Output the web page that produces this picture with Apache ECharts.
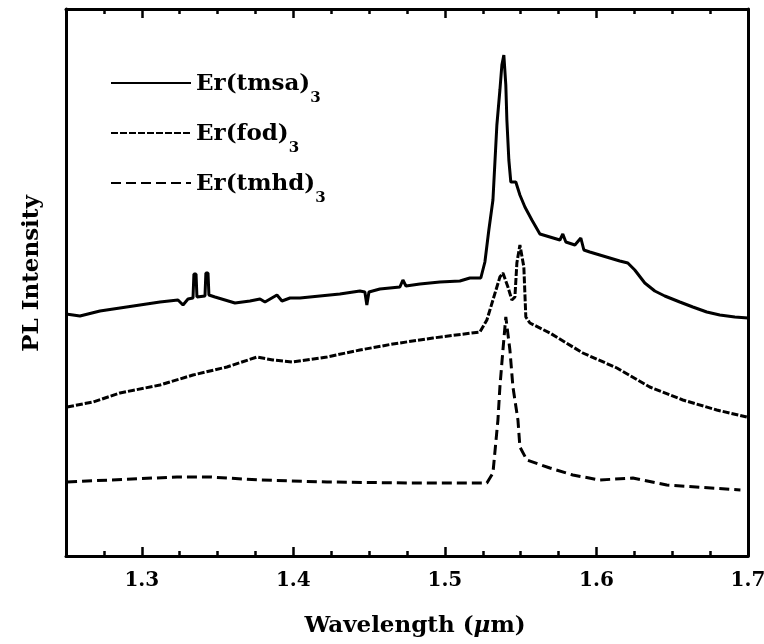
<!DOCTYPE html>
<html>
<head>
<meta charset="utf-8">
<script src="https://cdn.jsdelivr.net/npm/echarts@6/dist/echarts.min.js"></script>
<style>html,body{margin:0;padding:0;background:#fff;}#c{width:764px;height:644px;}</style>
</head>
<body>
<div id="c"></div>
<script>
// ---- data (wavelength in µm, PL intensity in arbitrary units) ----
const tmsaData = [
[1.2500,242],[1.2592,240],[1.2724,245],[1.2856,248],[1.2988,251],[1.3120,254],[1.3239,256],[1.3272,251],
[1.3305,257],[1.3338,258],[1.3344,282],[1.3358,282],[1.3364,259],[1.3417,260],[1.3423,283],[1.3437,283],
[1.3443,261],[1.3483,259],[1.3549,256],[1.3615,253],[1.3714,255],[1.3780,257],[1.3813,254],[1.3892,261],
[1.3925,255],[1.3978,258],[1.4044,258],[1.4175,260],[1.4307,262],[1.4439,265],[1.4472,264],[1.4485,251],
[1.4499,264],[1.4571,267],[1.4703,269],[1.4723,276],[1.4743,270],[1.4835,272],[1.4967,274],[1.5099,275],
[1.5165,278],[1.5237,278],[1.5264,294],[1.5290,326],[1.5317,356],[1.5343,431],[1.5363,466],[1.5376,491],
[1.5389,501],[1.5402,471],[1.5409,436],[1.5422,396],[1.5435,374],[1.5468,374],[1.5495,361],[1.5528,349],
[1.5574,336],[1.5627,322],[1.5693,319],[1.5759,316],[1.5778,322],[1.5798,314],[1.5858,311],[1.5897,318],
[1.5917,306],[1.5956,304],[1.6022,301],[1.6088,298],[1.6154,295],[1.6207,293],[1.6253,286],[1.6319,273],
[1.6385,265],[1.6451,260],[1.6550,254],[1.6636,249],[1.6728,244],[1.6814,241],[1.6913,239],[1.7000,238]
];
const fodData = [
[1.2507,149],[1.2678,154],[1.2856,163],[1.3120,171],[1.3338,181],[1.3562,189],[1.3760,199],[1.3865,196],
[1.3997,194],[1.4222,199],[1.4439,206],[1.4657,212],[1.4921,218],[1.5231,224],[1.5277,236],[1.5317,256],
[1.5363,279],[1.5383,283],[1.5416,269],[1.5442,256],[1.5462,259],[1.5475,293],[1.5495,311],[1.5521,289],
[1.5534,239],[1.5561,233],[1.5693,223],[1.5910,203],[1.6135,188],[1.6352,169],[1.6570,156],[1.6794,146],
[1.6992,139]
];
const tmhdData = [
[1.2507,74],[1.2790,76],[1.3232,79],[1.3450,79],[1.3780,76],[1.4222,74],[1.4749,73],[1.5277,73],
[1.5317,83],[1.5350,136],[1.5363,169],[1.5383,206],[1.5402,239],[1.5429,206],[1.5449,169],[1.5482,136],
[1.5495,109],[1.5541,96],[1.5693,88],[1.5844,81],[1.6022,76],[1.6240,78],[1.6464,71],[1.6950,66]
];
const seriesNames = ['Er(tmsa)', 'Er(fod)', 'Er(tmhd)'];
const subscript = '3';
const majorTicks = [1.3, 1.4, 1.5, 1.6, 1.7];
const minorTicks = [1.275, 1.325, 1.35, 1.375, 1.425, 1.45, 1.475, 1.525, 1.55, 1.575, 1.625, 1.65, 1.675];
const xMin = 1.25, xMax = 1.7;
const xTitle = 'Wavelength (';
const yTitle = 'PL Intensity';

const FONT = '"DejaVu Serif", "Liberation Serif", serif';
const chart = echarts.init(document.getElementById('c'));

function xAx(pos, ticks, len, showLine, showLabel) {
  return {
    type: 'value', position: pos, min: xMin, max: xMax,
    axisLine: { show: showLine, onZero: false, lineStyle: { color: '#000', width: 3 } },
    axisTick: { show: true, inside: true, length: len, customValues: ticks, lineStyle: { color: '#000', width: 2.5 } },
    axisLabel: showLabel ? { show: true, customValues: majorTicks, margin: 15, color: '#000',
      fontFamily: FONT, fontWeight: 'bold', fontSize: 20, formatter: v => String(+v.toFixed(2)) } : { show: false },
    splitLine: { show: false }
  };
}

const xAxes = [
  Object.assign(xAx('bottom', majorTicks, 9, true, true), {
    nameLocation: 'middle', nameGap: 59,
    nameTextStyle: { color: '#000', fontFamily: FONT, fontWeight: 'bold', fontSize: 23, padding: [0, 0, 0, 16],
      rich: { mu: { fontFamily: FONT, fontStyle: 'italic', fontWeight: 'bold', fontSize: 23, color: '#000' },
              n: { fontFamily: FONT, fontWeight: 'bold', fontSize: 23, color: '#000' } } }
  }),
  xAx('bottom', minorTicks, 5, false, false),
  xAx('top', majorTicks, 9, true, false),
  xAx('top', minorTicks, 5, false, false)
];
xAxes[0].name = '{n|' + xTitle + '}{mu|\u03bc}{n|m)}';

const names = seriesNames.map(n => n + subscript);
const dashes = ['solid', [7, 2], [10, 5]];
const datas = [tmsaData, fodData, tmhdData];

const legends = names.map((nm, i) => ({
  data: [nm], left: 110, top: 69 + i * 50, orient: 'vertical', padding: 0,
  itemWidth: 80, itemHeight: 14, itemGap: 5,
  itemStyle: { opacity: 0 },
  formatter: name => '{m|' + name.slice(0, -1) + '}{s|' + name.slice(-1) + '}',
  textStyle: { color: '#000', fontFamily: FONT, fontWeight: 'bold', fontSize: 23,
    rich: { m: { fontFamily: FONT, fontWeight: 'bold', fontSize: 23, color: '#000', lineHeight: 28, verticalAlign: 'top', padding: [4, 0, 0, 0] },
            s: { fontFamily: FONT, fontWeight: 'bold', fontSize: 15, color: '#000', lineHeight: 14, verticalAlign: 'top', padding: [22, 0, 0, 0] } } }
}));

chart.setOption({
  animation: false,
  backgroundColor: '#fff',
  grid: { left: 66, right: 16, top: 9, bottom: 88, containLabel: false, outerBoundsMode: 'none' },
  legend: legends,
  xAxis: xAxes,
  yAxis: [
    { type: 'value', position: 'left', min: 0, max: 547,
      name: yTitle, nameLocation: 'middle', nameGap: 22, nameRotate: 90,
      nameTextStyle: { color: '#000', fontFamily: FONT, fontWeight: 'bold', fontSize: 23, padding: [0, 0, 0, 18] },
      axisLine: { show: true, lineStyle: { color: '#000', width: 3 } },
      axisTick: { show: false }, axisLabel: { show: false }, splitLine: { show: false } },
    { type: 'value', position: 'right', min: 0, max: 547,
      axisLine: { show: true, lineStyle: { color: '#000', width: 3 } },
      axisTick: { show: false }, axisLabel: { show: false }, splitLine: { show: false } }
  ],
  series: names.map((nm, i) => ({
    name: nm, type: 'line', xAxisIndex: 0, yAxisIndex: 0,
    data: datas[i], symbol: 'none', showSymbol: false, smooth: false,
    lineStyle: { color: '#000', width: 3, type: dashes[i] },
    itemStyle: { color: '#000' }
  }))
});
</script>
</body>
</html>
